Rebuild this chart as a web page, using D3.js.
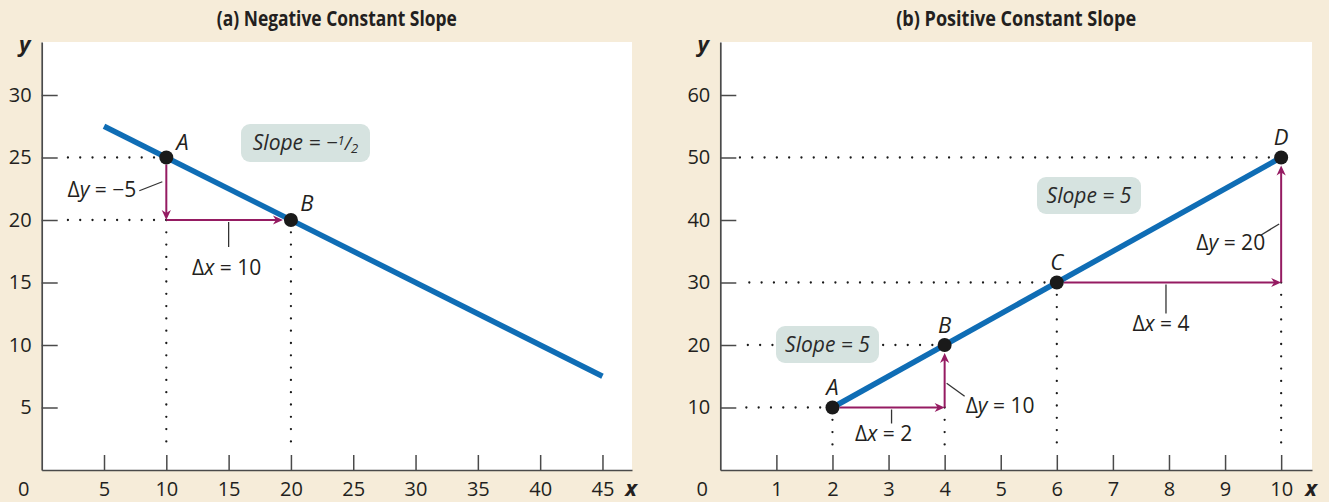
<!DOCTYPE html>
<html><head><meta charset="utf-8">
<script src="https://cdn.jsdelivr.net/npm/d3@7"></script>
<style>body{margin:0;background:#f6ecd9;} svg{display:block}</style>
</head><body><svg id="c" width="1329" height="502"></svg>
<script>
// ---------- Panel (a) data ----------
const aTitle = "(a) Negative Constant Slope";
const aXTicks = [5, 10, 15, 20, 25, 30, 35, 40, 45];
const aYTicks = [5, 10, 15, 20, 25, 30];
const aLineX = [5, 45];
const aLineY = [27.5, 7.5];
const aPointNames = ["A", "B"];
const aPointX = [10, 20];
const aPointY = [25, 20];
const aDeltaY = ["−5"];
const aDeltaX = ["10"];
const aSlopeText = ["Slope = −"];

// ---------- Panel (b) data ----------
const bTitle = "(b) Positive Constant Slope";
const bXTicks = [1, 2, 3, 4, 5, 6, 7, 8, 9, 10];
const bYTicks = [10, 20, 30, 40, 50, 60];
const bLineX = [2, 10];
const bLineY = [10, 50];
const bPointNames = ["A", "B", "C", "D"];
const bPointX = [2, 4, 6, 10];
const bPointY = [10, 20, 30, 50];
const bDeltaY = ["10", "20"];
const bDeltaX = ["2", "4"];
const bSlopeText = ["Slope = 5", "Slope = 5"];

// ---------- style ----------
const W = 1329, H = 502;
const FONT = "'Open Sans', 'Noto Sans', sans-serif";
const INK = "#231f20";
const AXIS = "#4a4a4a";
const BLUE = "#0f6db5";
const ARROW = "#951b62";
const BOX = "#d6e3e0";

const svg = d3.select("#c");
svg.append("rect").attr("width", W).attr("height", H).attr("fill", "#f6ecd9");

function arrow(g, x1, y1, x2, y2) {
  const a = Math.atan2(y2 - y1, x2 - x1);
  g.append("line").attr("x1", x1).attr("y1", y1)
    .attr("x2", x2 - 6 * Math.cos(a)).attr("y2", y2 - 6 * Math.sin(a))
    .attr("stroke", ARROW).attr("stroke-width", 2);
  g.append("path").attr("d", "M0,0 L-10,-4.6 L-7,0 L-10,4.6 Z")
    .attr("fill", ARROW)
    .attr("transform", `translate(${x2},${y2}) rotate(${a * 180 / Math.PI})`);
}
function dotted(g, x1, y1, x2, y2) {
  g.append("line").attr("x1", x1).attr("y1", y1).attr("x2", x2).attr("y2", y2)
    .attr("stroke", "#1a1a1a").attr("stroke-width", 2.3)
    .attr("stroke-linecap", "round").attr("stroke-dasharray", "0,12.3");
}
function leader(g, x1, y1, x2, y2) {
  g.append("line").attr("x1", x1).attr("y1", y1).attr("x2", x2).attr("y2", y2)
    .attr("stroke", "#333").attr("stroke-width", 1.3);
}
function deltaLabel(g, x, y, v, val, anchor) {
  const t = g.append("text").attr("x", x).attr("y", y).attr("dy", "0.35em")
    .attr("text-anchor", anchor).attr("font-family", FONT).attr("font-size", 21).attr("fill", INK);
  t.append("tspan").text("Δ");
  t.append("tspan").attr("font-style", "italic").text(v);
  t.append("tspan").text(" = " + val);
}
function slopeBox(g, x0, y0, w, h, build) {
  g.append("rect").attr("x", x0).attr("y", y0).attr("width", w).attr("height", h)
    .attr("rx", 9).attr("fill", BOX);
  const t = g.append("text").attr("x", x0 + w / 2).attr("y", y0 + h / 2).attr("dy", "0.35em")
    .attr("text-anchor", "middle").attr("font-family", FONT).attr("font-size", 21)
    .attr("font-style", "italic").attr("fill", "#2a2a2a");
  build(t);
}

function panel(cfg) {
  const x = d3.scaleLinear().domain([0, cfg.xMax]).range([cfg.left, cfg.right]);
  const y = d3.scaleLinear().domain([0, cfg.yMax]).range([cfg.bottom, cfg.top]);
  const g = svg.append("g");
  g.append("rect").attr("x", cfg.left).attr("y", cfg.top)
    .attr("width", cfg.right - cfg.left).attr("height", cfg.bottom - cfg.top).attr("fill", "#fff");

  g.append("text").attr("x", (cfg.left + cfg.right) / 2).attr("y", 26)
    .attr("text-anchor", "middle").attr("font-family", FONT).attr("font-weight", "bold")
    .attr("font-size", 22).attr("fill", INK)
    .attr("textLength", 240).attr("lengthAdjust", "spacingAndGlyphs").text(cfg.title);

  const xa = g.append("g").attr("transform", `translate(0,${cfg.bottom})`)
    .call(d3.axisBottom(x).tickValues(cfg.xTicks).tickSize(-15).tickPadding(12).tickSizeOuter(0));
  const ya = g.append("g").attr("transform", `translate(${cfg.left},0)`)
    .call(d3.axisLeft(y).tickValues(cfg.yTicks).tickSize(-16).tickPadding(10).tickSizeOuter(0));
  [xa, ya].forEach(a => {
    a.attr("font-family", FONT).attr("font-size", 20);
    a.select(".domain").attr("stroke", AXIS).attr("stroke-width", 1.7);
    a.selectAll(".tick line").attr("stroke", AXIS).attr("stroke-width", 1.5);
    a.selectAll(".tick text").attr("fill", INK);
  });
  g.append("text").attr("x", cfg.left - 18).attr("y", 489).attr("dy", "0.35em")
    .attr("text-anchor", "middle").attr("font-family", FONT).attr("font-size", 20).attr("fill", INK).text("0");
  g.append("text").attr("x", cfg.left - 17).attr("y", 44).attr("dy", "0.35em")
    .attr("text-anchor", "middle").attr("font-family", FONT).attr("font-size", 22)
    .attr("font-weight", "bold").attr("font-style", "italic").attr("fill", INK).text("y");
  g.append("text").attr("x", cfg.right - 1).attr("y", 488).attr("dy", "0.35em")
    .attr("text-anchor", "middle").attr("font-family", FONT).attr("font-size", 22)
    .attr("font-weight", "bold").attr("font-style", "italic").attr("fill", INK).text("x");

  const pts = cfg.px.map((v, i) => ({ name: cfg.names[i], x: x(v), y: y(cfg.py[i]), vx: v, vy: cfg.py[i] }));
  cfg.draw(g, x, y, pts);

  // main line
  const lineData = cfg.lx.map((v, i) => [v, cfg.ly[i]]);
  g.append("path").datum(lineData)
    .attr("d", d3.line().x(d => x(d[0])).y(d => y(d[1])))
    .attr("stroke", BLUE).attr("stroke-width", 5.5).attr("fill", "none");

  // points & labels
  g.selectAll(".pt").data(pts).join("circle")
    .attr("cx", d => d.x).attr("cy", d => d.y).attr("r", 7).attr("fill", "#1a1a1a");
  g.selectAll(".pl").data(pts).join("text")
    .attr("x", (d, i) => d.x + cfg.labelOff[i][0]).attr("y", (d, i) => d.y + cfg.labelOff[i][1])
    .attr("dy", "0.35em").attr("text-anchor", "middle")
    .attr("font-family", FONT).attr("font-size", 22).attr("font-style", "italic").attr("fill", INK)
    .text(d => d.name);
}

// Panel (a)
panel({
  title: aTitle, left: 41.7, right: 632, top: 42, bottom: 470,
  xMax: 47.37, yMax: 34.24, xTicks: aXTicks, yTicks: aYTicks,
  lx: aLineX, ly: aLineY, names: aPointNames, px: aPointX, py: aPointY,
  labelOff: [[16, -15], [16, -17]],
  draw: (g, x, y, p) => {
    const A = p[0], B = p[1];
    const axL = x(0) + 17, axB = y(0) - 22;
    dotted(g, A.x, A.y, axL, A.y);
    dotted(g, A.x, B.y, axL, B.y);
    dotted(g, A.x, B.y, A.x, axB);
    dotted(g, B.x, B.y, B.x, axB);
    arrow(g, A.x, A.y + 7, A.x, B.y);
    arrow(g, A.x, B.y, B.x - 8, B.y);
    const my = (A.y + B.y) / 2, mx = (A.x + B.x) / 2;
    leader(g, A.x - 27, my + 2, A.x - 4, my - 7);
    deltaLabel(g, A.x - 30, my + 1, "y", aDeltaY[0], "end");
    leader(g, mx, B.y + 2, mx, B.y + 27);
    deltaLabel(g, mx - 2, B.y + 48, "x", aDeltaX[0], "middle");
    slopeBox(g, 241, 124, 129, 38, t => {
      t.append("tspan").text(aSlopeText[0]);
      t.append("tspan").attr("font-size", 13).attr("dy", "-0.45em").text("1");
      t.append("tspan").attr("font-size", 18).attr("dy", "0.3em").text("/");
      t.append("tspan").attr("font-size", 13).attr("dy", "0.2em").text("2");
    });
  }
});

// Panel (b)
panel({
  title: bTitle, left: 720.3, right: 1312, top: 42, bottom: 470,
  xMax: 10.55, yMax: 68.48, xTicks: bXTicks, yTicks: bYTicks,
  lx: bLineX, ly: bLineY, names: bPointNames, px: bPointX, py: bPointY,
  labelOff: [[0, -20], [0, -20], [0, -20], [0, -20]],
  draw: (g, x, y, p) => {
    const axL = x(0) + 17, axB = y(0) - 19;
    p.forEach(d => dotted(g, d.x, d.y, axL, d.y));
    const pairs = [[0, 1], [2, 3]];
    pairs.forEach(([i, j], k) => {
      const P = p[i], Q = p[j];
      dotted(g, P.x, P.y, P.x, axB);
      dotted(g, Q.x, P.y, Q.x, axB);
      arrow(g, P.x + 7, P.y, Q.x, P.y);
      arrow(g, Q.x, P.y, Q.x, Q.y + 8);
    });
    // labels for triangle 1 (A -> B)
    let P = p[0], Q = p[1];
    let mx = (P.x + Q.x) / 2, my = (P.y + Q.y) / 2;
    leader(g, mx + 3, P.y + 2, mx + 3, P.y + 16);
    deltaLabel(g, mx - 5, P.y + 26, "x", bDeltaX[0], "middle");
    leader(g, Q.x + 2, my + 7, Q.x + 20, my + 20);
    deltaLabel(g, Q.x + 21, my + 29, "y", bDeltaY[0], "start");
    // triangle 2 (C -> D)
    P = p[2]; Q = p[3];
    mx = (P.x + Q.x) / 2; my = (P.y + Q.y) / 2;
    leader(g, mx - 3, P.y + 2, mx - 3, P.y + 31);
    deltaLabel(g, mx - 8, P.y + 41, "x", bDeltaX[1], "middle");
    leader(g, Q.x - 20, my + 15, Q.x - 2, my + 4);
    deltaLabel(g, Q.x - 16, my + 23, "y", bDeltaY[1], "end");
    slopeBox(g, 1037, 177, 104, 37, t => t.text(bSlopeText[0]));
    slopeBox(g, 776, 326, 103, 37, t => t.text(bSlopeText[1]));
  }
});
</script></body></html>
